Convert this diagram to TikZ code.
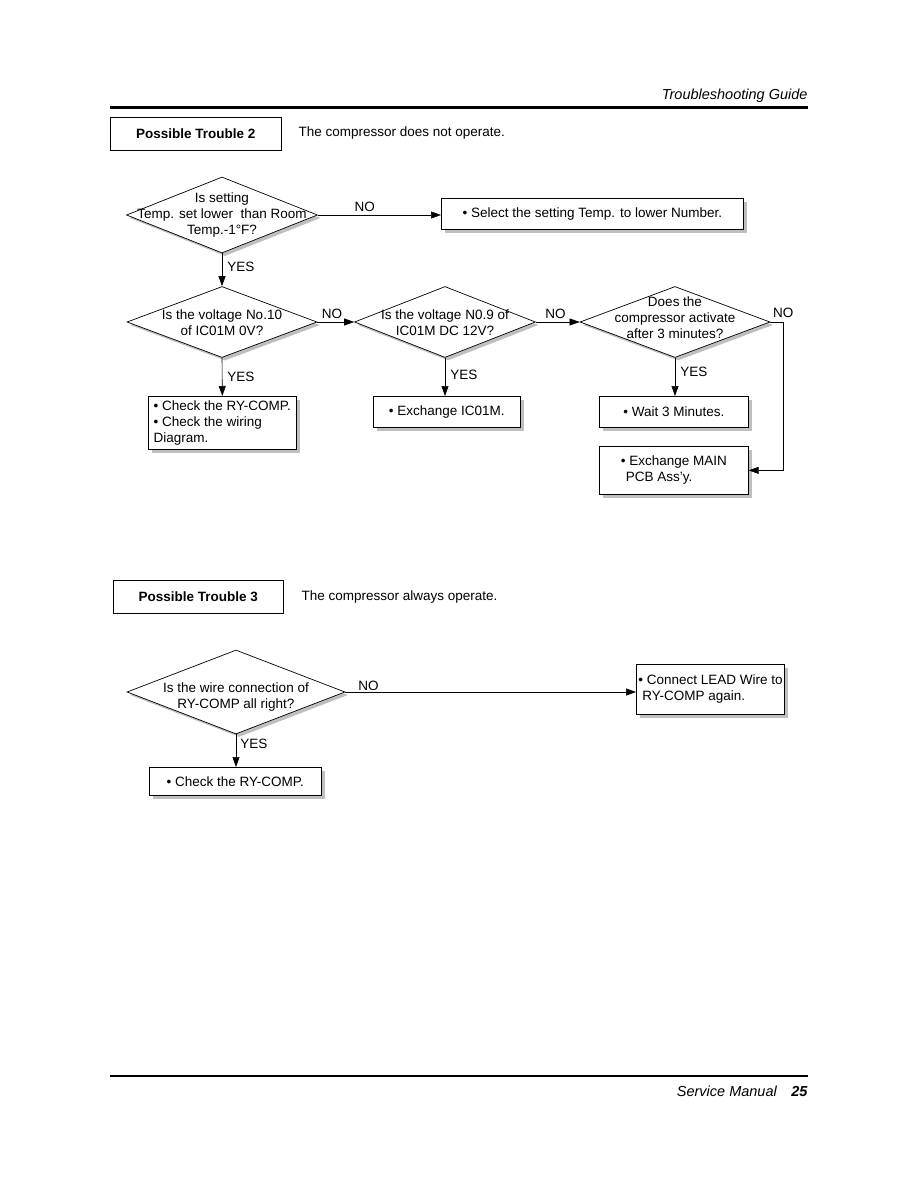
\documentclass[tikz,border=0pt]{standalone}
\usepackage{fontspec}
\setmainfont{Liberation Sans}
\usetikzlibrary{shapes.geometric,arrows.meta,shadows}
\begin{document}
\begin{tikzpicture}[x=1pt,y=-1pt,
  every node/.style={font=\fontsize{13.5}{16}\selectfont},
  box/.style={draw,line width=0.7pt,fill=white,anchor=north west,inner xsep=2pt,inner ysep=3pt,
    drop shadow={shadow xshift=3.5pt,shadow yshift=-3.5pt,fill=gray!50,opacity=1}},
  ask/.style={draw,diamond,line width=0.7pt,fill=white,inner sep=0pt,
    drop shadow={shadow xshift=3pt,shadow yshift=-3pt,fill=gray!50,opacity=1}},
  trouble/.style={draw,line width=0.7pt,anchor=north west,minimum width=171pt,minimum height=33pt,
    font=\fontsize{13.5}{16}\selectfont\bfseries},
  arr/.style={line width=0.6pt,-{Triangle[length=10pt,width=7pt]}},
  tag/.style={inner sep=1pt}]
\useasboundingbox (0,0) rectangle (918,1188);
% page head
\node[anchor=base east,font=\fontsize{14.5}{16}\selectfont\itshape] (head) at (811,100) {Troubleshooting Guide};
\draw[line width=3pt] (110,108) -- (808,108);
% trouble 2
\node[trouble] (t2) at (110,117) {Possible Trouble 2};
\node[anchor=west] (s2) at (295,133) {The compressor does not operate.};
\node[ask,minimum width=191pt,minimum height=76pt] (q1) at (222,215) {};
\node[align=center] at (q1) {Is setting\\Temp. set lower\ \ than Room\\Temp.-1°F?};
\node[box,minimum width=302pt,minimum height=31pt] (b1) at (441,198) {• Select the setting Temp. to lower Number.};
\node[ask,minimum width=190pt,minimum height=71pt] (q2) at (222,322) {};
\node[align=center] at ([yshift=-1pt]q2) {Is the voltage No.10\\of IC01M 0V?};
\node[ask,minimum width=181pt,minimum height=71pt] (q3) at (445,322) {};
\node[align=center] at ([yshift=-1pt]q3) {Is the voltage N0.9 of\\IC01M DC 12V?};
\node[ask,minimum width=190pt,minimum height=71pt] (q4) at (675,322) {};
\node[align=center] at ([yshift=4pt]q4) {Does the\\compressor activate\\after 3 minutes?};
\node[box,minimum width=148pt,minimum height=53pt,align=left] (b2) at (148,396) {• Check the RY-COMP.\\• Check the wiring\\Diagram.};
\node[box,minimum width=147pt,minimum height=31pt] (b3) at (373,396) {• Exchange IC01M.};
\node[box,minimum width=149pt,minimum height=31pt] (b4) at (599,396) {• Wait 3 Minutes.};
\node[box,minimum width=149pt,minimum height=48pt,align=left] (b5) at (599,446) {• Exchange MAIN\\\hspace*{5pt}PCB Ass'y.};
\draw[arr] (q1.east) -- (q1.east -| b1.west) node[tag,pos=0.38,above=2pt] {NO};
\draw[arr] (q1.south) -- (q2.north) node[tag,pos=0.4,right=4pt] {YES};
\draw[arr] (q2.east) -- (q3.west) node[tag,pos=0.4,above=2pt] {NO};
\draw[arr] (q3.east) -- (q4.west) node[tag,pos=0.45,above=2pt] {NO};
\draw[arr] (q4.east) -- ++(13,0) node[tag,above=3pt] {NO} |- (b5.east);
\draw[arr] (q2.south) -- (b2.north) node[tag,pos=0.5,right=4pt] {YES};
\draw[arr] (q3.south) -- (q3.south |- b3.north) node[tag,pos=0.45,right=4pt] {YES};
\draw[arr] (q4.south) -- (q4.south |- b4.north) node[tag,pos=0.37,right=4pt] {YES};
% trouble 3
\node[trouble,minimum width=170pt] (t3) at (113,580) {Possible Trouble 3};
\node[anchor=west] (s3) at (298,597) {The compressor always operate.};
\node[ask,minimum width=218pt,minimum height=84pt] (q5) at (236,692) {};
\node[align=center] at ([yshift=-5pt]q5) {Is the wire connection of\\RY-COMP all right?};
\node[box,minimum width=146pt,minimum height=50pt,align=left] (b6) at (636,664) {• Connect LEAD Wire to\\\hspace*{4pt}RY-COMP again.};
\node[box,minimum width=172pt,minimum height=28pt] (b7) at (149,767) {• Check the RY-COMP.};
\draw[arr] (q5.east) -- (q5.east -| b6.west) node[tag,pos=0.04,above right] {NO};
\draw[arr] (q5.south) -- (q5.south |- b7.north) node[tag,pos=0.3,right=3pt] {YES};
% page foot
\draw[line width=2pt] (110,1076) -- (808,1076);
\node[anchor=base east,font=\fontsize{14.5}{16}\selectfont\itshape] (foot) at (811,1096) {Service Manual\quad\textbf{25}};
\end{tikzpicture}
\end{document}
